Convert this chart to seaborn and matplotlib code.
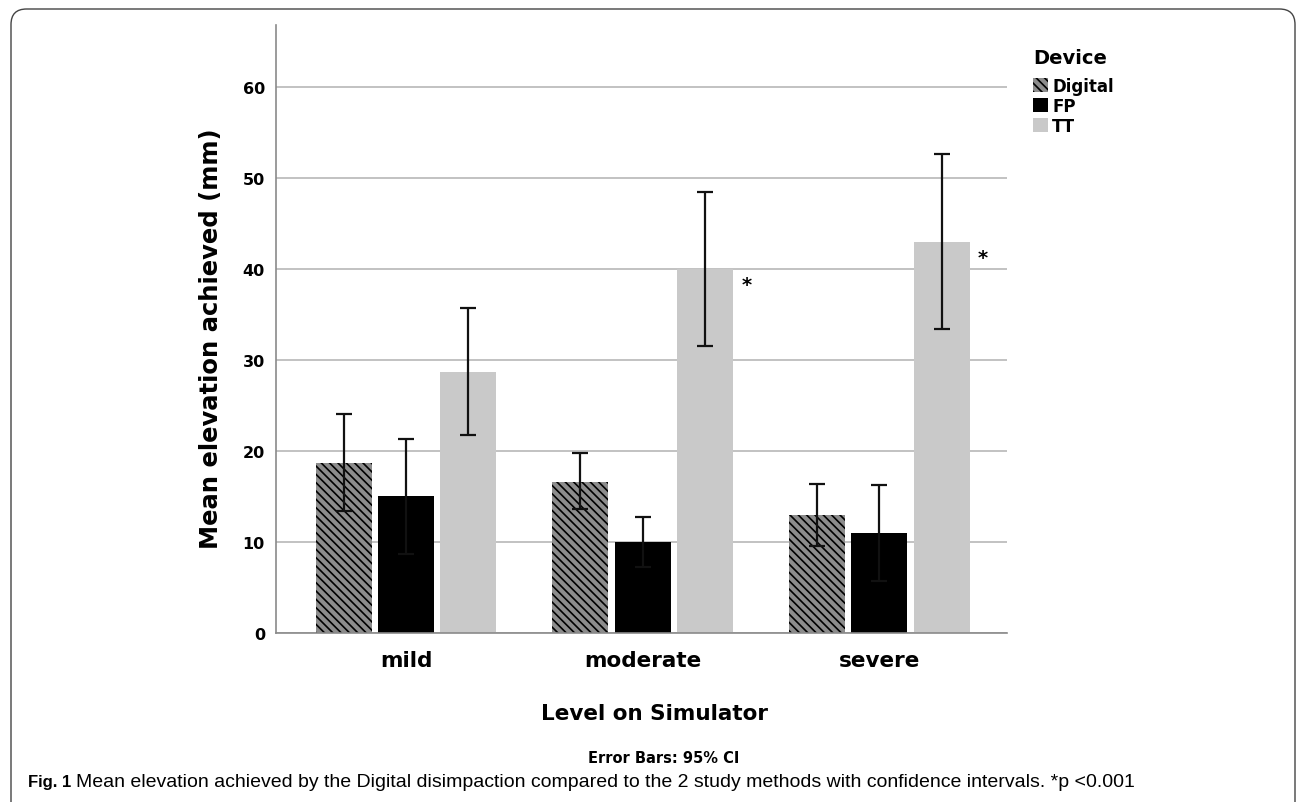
import numpy as np
import pandas as pd
import matplotlib
matplotlib.use("Agg")
import matplotlib.pyplot as plt
from matplotlib.patches import Patch, FancyBboxPatch
import seaborn as sns

levels = ["mild", "moderate", "severe"]
devices = ["Digital", "FP", "TT"]
means = {
    "Digital": [18.7, 16.6, 13.0],
    "FP": [15.0, 10.0, 11.0],
    "TT": [28.7, 40.0, 43.0],
}
ci_low = {
    "Digital": [13.4, 13.6, 9.6],
    "FP": [8.7, 7.3, 5.7],
    "TT": [21.8, 31.5, 33.4],
}
ci_high = {
    "Digital": [24.1, 19.8, 16.4],
    "FP": [21.3, 12.7, 16.3],
    "TT": [35.7, 48.5, 52.6],
}
significant = {"Digital": [False, False, False], "FP": [False, False, False], "TT": [False, True, True]}
y_ticks = [0, 10, 20, 30, 40, 50, 60]

rows = []
for d in devices:
    for i, lv in enumerate(levels):
        rows.append({"Level": lv, "Device": d, "Mean": means[d][i]})
df = pd.DataFrame(rows)

sns.set_theme(style="white")
plt.rcParams["font.family"] = ["DejaVu Sans"]
plt.rcParams["text.color"] = "black"
plt.rcParams["axes.labelcolor"] = "black"
plt.rcParams["xtick.color"] = "black"
plt.rcParams["ytick.color"] = "black"
plt.rcParams["hatch.linewidth"] = 1.2

fig = plt.figure(figsize=(12.96, 8.03), dpi=100)
ax = fig.add_axes([0.213, 0.2105, 0.564, 0.757])

palette = {"Digital": "#8c8c8c", "FP": "#000000", "TT": "#c9c9c9"}
sns.barplot(data=df, x="Level", y="Mean", hue="Device", order=levels, hue_order=devices,
            palette=palette, errorbar=None, width=0.79, gap=0.1, legend=False,
            saturation=1, ax=ax, zorder=2)

for d, cont in zip(devices, ax.containers):
    xs = []
    for bar in cont:
        bar.set_linewidth(0)
        if d == "Digital":
            bar.set_edgecolor("black")
            bar.set_hatch("\\\\\\\\")
        else:
            bar.set_edgecolor("none")
        xs.append(bar.get_x() + bar.get_width() / 2)
    xs = np.array(xs)
    m = np.array(means[d])
    lo = m - np.array(ci_low[d])
    hi = np.array(ci_high[d]) - m
    ax.errorbar(xs, m, yerr=[lo, hi], fmt="none", ecolor="#111111", elinewidth=1.6,
                capsize=6, capthick=1.6, zorder=3)
    for bar, sig in zip(cont, significant[d]):
        if sig:
            ax.annotate("*", xy=(bar.get_x() + bar.get_width(), bar.get_height()),
                        xytext=(6, -18), textcoords="offset points",
                        fontsize=14, fontweight="bold", ha="left", va="bottom")

ax.set_ylim(0, 66.8)
ax.set_xlim(-0.55, 2.54)
ax.set_yticks(y_ticks)
ax.set_yticklabels([str(t) for t in y_ticks], fontsize=11.5, fontweight="bold")
ax.tick_params(axis="y", length=0, pad=8)
ax.tick_params(axis="x", length=0, pad=12)
for lab in ax.get_xticklabels():
    lab.set_fontsize(15.5)
    lab.set_fontweight("bold")
ax.yaxis.grid(True, color="#c2c2c2", linewidth=1.4, zorder=0)
ax.set_axisbelow(True)
for s in ["top", "right"]:
    ax.spines[s].set_visible(False)
for s in ["left", "bottom"]:
    ax.spines[s].set_color("#8a8a8a")
    ax.spines[s].set_linewidth(1.2)

ax.set_ylabel("Mean elevation achieved (mm)", fontsize=17.5, fontweight="bold")
ax.yaxis.set_label_coords(-0.072, 0.485)
ax.set_xlabel("Level on Simulator", fontsize=15.5, fontweight="bold")
ax.xaxis.set_label_coords(0.518, -0.115)

handles = [
    Patch(facecolor=palette["Digital"], hatch="\\\\\\\\", edgecolor="black", linewidth=0, label="Digital"),
    Patch(facecolor=palette["FP"], edgecolor="none", label="FP"),
    Patch(facecolor=palette["TT"], edgecolor="none", label="TT"),
]
fig.text(1033 / 1296, 1 - 58 / 803, "Device", fontsize=14, fontweight="bold", ha="left", va="center")
leg = fig.legend(handles=handles, loc="upper left",
                 bbox_to_anchor=(1033 / 1296, 1 - 78 / 803), frameon=False,
                 handlelength=0.9, handleheight=0.9, handletextpad=0.25,
                 labelspacing=0.12, borderpad=0, borderaxespad=0,
                 prop={"weight": "bold", "size": 12})

fig.text(0.512, 0.056, "Error Bars: 95% CI", fontsize=10.5, fontweight="bold", ha="center", va="center")

fig.text(28 / 1296, 0.026, "Fig. 1", fontsize=12, fontweight="bold", ha="left", va="center",
         family=["Liberation Sans", "DejaVu Sans"])
fig.text(76 / 1296, 0.026,
         "Mean elevation achieved by the Digital disimpaction compared to the 2 study methods with confidence intervals. *p <0.001",
         fontsize=14, ha="left", va="center", family=["Liberation Sans", "DejaVu Sans"])

frame = FancyBboxPatch((11 / 1296, -20 / 803), 1284 / 1296, 813 / 803,
                       boxstyle="round,pad=0,rounding_size=0.012",
                       transform=fig.transFigure, fill=False, edgecolor="#444444",
                       linewidth=1.0, mutation_aspect=1296 / 803)
fig.patches.append(frame)

fig.savefig("out.png", dpi=100)
